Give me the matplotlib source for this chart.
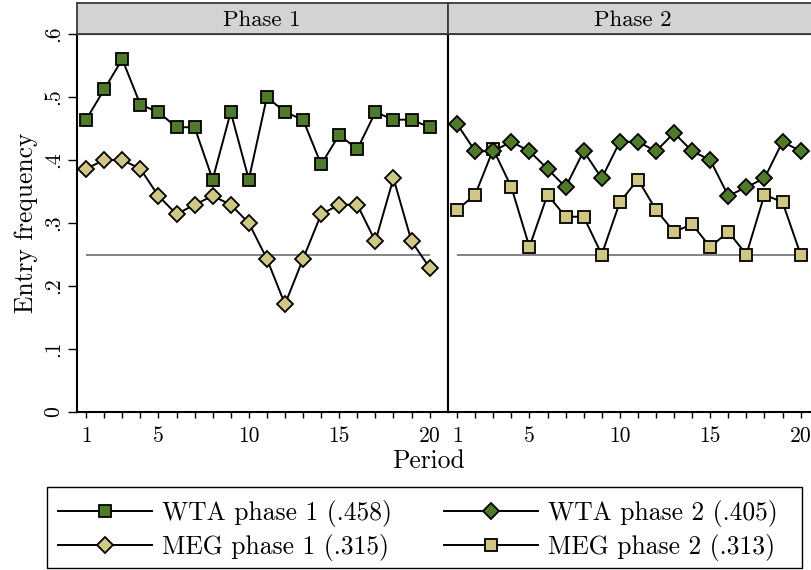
import numpy as np
import matplotlib
matplotlib.use("Agg")
import matplotlib.pyplot as plt
from matplotlib.lines import Line2D
from matplotlib.patches import Rectangle

plt.rcParams['font.family'] = 'cmr10'
plt.rcParams['axes.formatter.use_mathtext'] = True

# data
periods = np.arange(1, 21)
wta_p1 = [.464, .512, .560, .488, .476, .452, .452, .369, .476, .369,
          .500, .476, .464, .393, .440, .417, .476, .464, .464, .452]
meg_p1 = [.386, .400, .400, .386, .343, .314, .329, .343, .329, .300,
          .243, .171, .243, .314, .329, .329, .271, .371, .271, .229]
wta_p2 = [.457, .414, .414, .429, .414, .386, .357, .414, .371, .429,
          .429, .414, .443, .414, .400, .343, .357, .371, .429, .414]
meg_p2 = [.321, .345, .417, .357, .262, .345, .310, .310, .250, .333,
          .369, .321, .286, .298, .262, .286, .250, .345, .333, .250]
ref_level = 0.25
panel_titles = ["Phase 1", "Phase 2"]
legend_labels = ["WTA phase 1 (.458)", "MEG phase 1 (.315)",
                 "WTA phase 2 (.405)", "MEG phase 2 (.313)"]
yticks = [0, .1, .2, .3, .4, .5, .6]
ytick_labels = ["0", ".1", ".2", ".3", ".4", ".5", ".6"]
xtick_labels = {1: "1", 5: "5", 10: "10", 15: "15", 20: "20"}

GREEN = '#507a2a'
KHAKI = '#d1c785'

W, H = 812, 570
fig = plt.figure(figsize=(W / 100, H / 100), dpi=100)

# pixel geometry of the panels
left0 = 76.7
pw = 371.0
top_px, bot_px = 34, 412
strip_top = 3

def px_box(x0, y0, x1, y1):
    return [x0 / W, 1 - y1 / H, (x1 - x0) / W, (y1 - y0) / H]

axes = []
for i in range(2):
    x0 = left0 + i * pw
    ax = fig.add_axes(px_box(x0, top_px, x0 + pw, bot_px))
    strip = fig.add_axes(px_box(x0, strip_top, x0 + pw, top_px))
    strip.set_facecolor('#d3d3d3')
    strip.set_xticks([])
    strip.set_yticks([])
    for s in strip.spines.values():
        s.set_color('#3a3a3a')
        s.set_linewidth(1.3)
    strip.text(0.5, 0.45, panel_titles[i], ha='center', va='center',
               fontsize=16.4, transform=strip.transAxes)
    axes.append(ax)

series = [
    (axes[0], wta_p1, 's', GREEN, 9.3, 0),
    (axes[0], meg_p1, 'D', KHAKI, 7.7, 1),
    (axes[1], meg_p2, 's', KHAKI, 9.3, 3),
    (axes[1], wta_p2, 'D', GREEN, 7.7, 2),
]
handles = [None] * 4
for ax, vals, mk, col, ms, idx in series:
    ax.plot(periods, vals, color='black', lw=1.4, marker=mk, ms=ms,
            mfc=col, mec='black', mew=1.3, zorder=3)
    handles[idx] = Line2D([], [], color='black', lw=1.4, marker=mk, ms=ms,
                          mfc=col, mec='black', mew=1.3)

for i, ax in enumerate(axes):
    ax.hlines(ref_level, periods[0], periods[-1], color='#6e6e6e', lw=1.2,
              zorder=2)
    ax.set_xlim(0.48, 21.0)
    ax.set_ylim(0, 0.6)
    ax.set_xticks(periods)
    ax.set_xticklabels([xtick_labels.get(p, "") for p in periods])
    ax.tick_params(axis='x', direction='out', length=4.5, width=1,
                   pad=6, labelsize=15.5)
    for s in ax.spines.values():
        s.set_linewidth(1.5)
    if i == 0:
        ax.set_yticks(yticks)
        ax.set_yticklabels(ytick_labels, rotation=90, va='center')
        ax.tick_params(axis='y', direction='out', length=6.5, width=1,
                       pad=3, labelsize=15.5)
        ax.set_ylabel("Entry frequency", fontsize=18.4, labelpad=4)
    else:
        ax.set_yticks([])

fig.text(428 / W, 1 - 468 / H, "Period", ha='center', va='baseline',
         fontsize=18.4)

# legend box drawn separately so the columns can sit where they do
fig.patches.append(Rectangle((47 / W, 2 / H), 755 / W, 81 / H,
                             transform=fig.transFigure, fill=False,
                             ec='black', lw=1.0))
fig.legend(handles, legend_labels, ncol=2, loc='center left',
           bbox_to_anchor=(57.7 / W, 1 - 530.5 / H),
           fontsize=18.4, handlelength=3.7, frameon=False,
           borderpad=0, borderaxespad=0, labelspacing=0.3,
           handletextpad=0.4, columnspacing=2.0)

fig.savefig("out.png", dpi=100)
